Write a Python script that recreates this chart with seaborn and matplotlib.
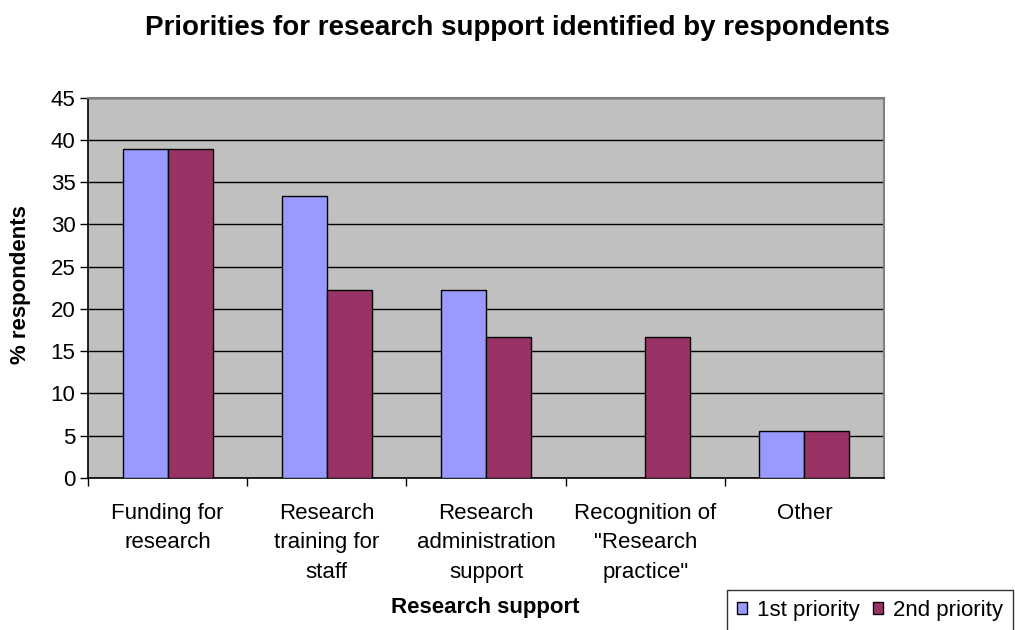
import matplotlib
matplotlib.use("Agg")
import matplotlib.pyplot as plt
import seaborn as sns
import pandas as pd
import numpy as np

# Survey results: share of respondents naming each area as a priority
categories = [
    "Funding for\nresearch",
    "Research\ntraining for\nstaff",
    "Research\nadministration\nsupport",
    "Recognition of\n\"Research\npractice\"",
    "Other",
]
first_priority = [38.9, 33.3, 22.2, 0.0, 5.6]
second_priority = [38.9, 22.2, 16.7, 16.7, 5.6]
series_names = ["1st priority", "2nd priority"]
yticks = [0, 5, 10, 15, 20, 25, 30, 35, 40, 45]

df = pd.DataFrame({
    "support": categories * 2,
    "pct": first_priority + second_priority,
    "priority": [series_names[0]] * len(categories) + [series_names[1]] * len(categories),
})

sns.set_style("white")
plt.rcParams["font.family"] = ["Liberation Sans", "DejaVu Sans"]
plt.rcParams["text.color"] = "black"
plt.rcParams["axes.labelcolor"] = "black"
plt.rcParams["xtick.color"] = "black"
plt.rcParams["ytick.color"] = "black"

fig = plt.figure(figsize=(10.15, 6.3), dpi=100)
ax = fig.add_axes([88 / 1015, 1 - 478 / 630, (884 - 88) / 1015, (478 - 97.5) / 630])
ax.set_facecolor("#C0C0C0")

palette = {series_names[0]: "#9999FF", series_names[1]: "#993366"}
sns.barplot(
    data=df, x="support", y="pct", hue="priority", order=categories,
    hue_order=series_names, palette=palette, width=0.565, gap=0,
    edgecolor="black", linewidth=1.0, saturation=1, ax=ax, zorder=3,
)

ax.set_ylim(0, 45)
ax.set_xlim(-0.5, len(categories) - 0.5)
ax.set_yticks(yticks)
ax.yaxis.grid(True, color="black", linewidth=1.0, zorder=1)
ax.set_axisbelow(True)
ax.tick_params(axis="y", which="major", direction="out", length=6, width=1,
               color="black", labelsize=16, pad=3, left=True)

# tick marks on category boundaries, labels at category centres
ax.set_xticks(np.arange(-0.5, len(categories) - 0.5, 1.0))
ax.set_xticklabels([])
ax.tick_params(axis="x", which="major", direction="out", length=6, width=1,
               color="black", bottom=True)
ax.set_xticks(np.arange(len(categories)), minor=True)
ax.set_xticklabels(categories, minor=True, fontsize=16, linespacing=1.52)
ax.tick_params(axis="x", which="minor", length=0, pad=18)

for side in ["left", "bottom"]:
    ax.spines[side].set_color("black")
    ax.spines[side].set_linewidth(1.2)
for side in ["top", "right"]:
    ax.spines[side].set_visible(True)
    ax.spines[side].set_color("#808080")
    ax.spines[side].set_linewidth(1.5)

ax.set_xlabel("Research support", fontsize=16, fontweight="bold")
ax.set_ylabel("% respondents", fontsize=16, fontweight="bold")
ax.xaxis.set_label_coords((485 - 88) / (884 - 88), -(607 - 478) / (478 - 97.5))
ax.xaxis.label.set_va("center")
ax.yaxis.set_label_coords(-(88 - 21) / (884 - 88), (478 - 285) / (478 - 97.5))
ax.yaxis.label.set_va("center")

fig.suptitle("Priorities for research support identified by respondents",
             fontsize=20, fontweight="bold", x=517 / 1015, y=1 - 28 / 630, va="center")

ax.legend_.remove()
handles, labels = ax.get_legend_handles_labels()
leg = fig.legend(handles, labels, loc="upper left",
                 bbox_to_anchor=(727 / 1015, 1 - 590 / 630),
                 ncol=2, frameon=True, fancybox=False, fontsize=16,
                 handlelength=0.45, handleheight=0.45, handletextpad=0.45,
                 columnspacing=0.6, borderpad=0.45, borderaxespad=0.0)
leg.get_frame().set_edgecolor("black")
leg.get_frame().set_linewidth(1.0)

fig.savefig("out.png", dpi=100, facecolor="white")
